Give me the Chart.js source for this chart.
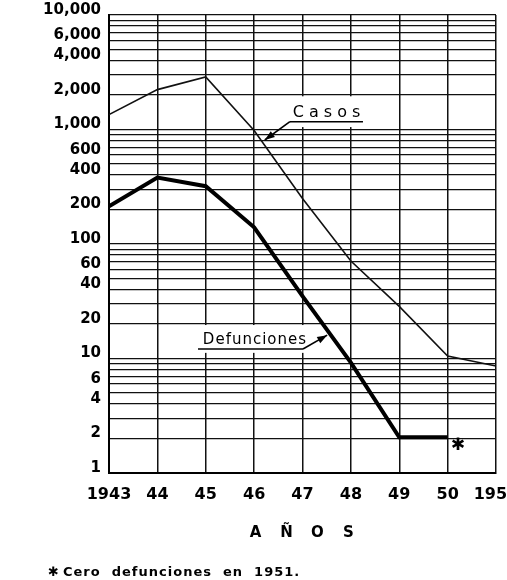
<!DOCTYPE html>
<html>
<head>
<meta charset="utf-8">
<script src="https://cdn.jsdelivr.net/npm/chart.js@4.4.1/dist/chart.umd.min.js"></script>
<style>
  html, body { margin: 0; padding: 0; background: #fff; }
  #wrap { width: 507px; height: 580px; }
</style>
</head>
<body>
<div id="wrap"><canvas id="c" width="507" height="580"></canvas></div>
<script>
// ── Data ──
const years = [1943, 1944, 1945, 1946, 1947, 1948, 1949, 1950, 1951];
const xTickLabels = ['1943', '44', '45', '46', '47', '48', '49', '50', '1951'];
const casos = [1350, 2230, 2880, 980, 250, 71, 28.5, 10.5, 8.6];
const defunciones = [213, 380, 320, 140, 35, 9.2, 2.05, 2.05, null];
const yTickLabels = [1, 2, 4, 6, 10, 20, 40, 60, 100, 200, 400, 600, 1000, 2000, 4000, 6000, 10000];
const yGridValues = [
  1, 2, 3, 4, 5, 6, 7, 8, 9,
  10, 20, 30, 40, 50, 60, 70, 80, 90,
  100, 200, 300, 400, 500, 600, 700, 800, 900,
  1000, 2000, 3000, 4000, 5000, 6000, 7000, 8000, 9000,
  10000
];

// ── Annotations (data coordinates) ──
const casosNote = { text: 'Casos', x: 1946.80, y: 1400, lineY: 1170, lineX0: 1946.74, lineX1: 1948.25, tipX: 1946.22, tipY: 810 };
const defNote = { text: 'Defunciones', x: 1944.94, y: 14.5, lineY: 12.1, lineX0: 1944.84, lineX1: 1947.01, tipX: 1947.51, tipY: 16.0 };
// gaps left in the vertical rules behind the labels
const gaps = [
  { xs: [1947, 1948], yTop: 1950, yBot: 1050 },
  { xs: [1945, 1946, 1947], yTop: 19.6, yBot: 11.2 }
];
const starPoint = { x: 1950.21, y: 1.72 };

function arrow(ctx, x0, y0, x1, y1) {
  ctx.beginPath();
  ctx.moveTo(x0, y0);
  ctx.lineTo(x1, y1);
  ctx.stroke();
  const a = Math.atan2(y1 - y0, x1 - x0);
  const len = 10, w = 3.5;
  ctx.beginPath();
  ctx.moveTo(x1, y1);
  ctx.lineTo(x1 - len * Math.cos(a) + w * Math.sin(a), y1 - len * Math.sin(a) - w * Math.cos(a));
  ctx.lineTo(x1 - len * Math.cos(a) - w * Math.sin(a), y1 - len * Math.sin(a) + w * Math.cos(a));
  ctx.closePath();
  ctx.fill();
}

const paperPlugin = {
  id: 'paper',
  beforeDatasetsDraw(chart) {
    const { ctx, scales: { x, y } } = chart;
    ctx.save();
    ctx.fillStyle = '#fff';
    gaps.forEach(g => {
      const top = y.getPixelForValue(g.yTop), bot = y.getPixelForValue(g.yBot);
      g.xs.forEach(v => {
        const px = x.getPixelForValue(v);
        ctx.fillRect(px - 2.5, top, 5, bot - top);
      });
    });
    ctx.restore();
  },
  afterDraw(chart) {
    const { ctx, chartArea, scales: { x, y } } = chart;
    ctx.save();
    ctx.fillStyle = '#000';
    ctx.strokeStyle = '#000';
    ctx.textBaseline = 'middle';

    // series labels
    [[casosNote, '5px', 16], [defNote, '1px', 15]].forEach(([n, sp, size]) => {
      ctx.font = size + 'px "DejaVu Sans"';
      ctx.letterSpacing = sp;
      ctx.textAlign = 'left';
      ctx.fillText(n.text, x.getPixelForValue(n.x), y.getPixelForValue(n.y));
      ctx.letterSpacing = '0px';
      ctx.lineWidth = 1.6;
      const ly = y.getPixelForValue(n.lineY);
      ctx.beginPath();
      ctx.moveTo(x.getPixelForValue(n.lineX0), ly);
      ctx.lineTo(x.getPixelForValue(n.lineX1), ly);
      ctx.stroke();
      const sx = n === casosNote ? x.getPixelForValue(n.lineX0) : x.getPixelForValue(n.lineX1);
      arrow(ctx, sx, ly, x.getPixelForValue(n.tipX), y.getPixelForValue(n.tipY));
    });

    // asterisk for 1951
    ctx.font = 'bold 17px "DejaVu Sans"';
    ctx.textAlign = 'center';
    ctx.fillText('✱', x.getPixelForValue(starPoint.x), y.getPixelForValue(starPoint.y));

    // axis title
    ctx.font = 'bold 15px "DejaVu Sans"';
    const title = ['A', 'Ñ', 'O', 'S'];
    const cx = (chartArea.left + chartArea.right) / 2;
    title.forEach((ch, i) => ctx.fillText(ch, cx - 47 + i * 31, 533));

    // footnote
    ctx.textAlign = 'left';
    ctx.font = 'bold 13px "DejaVu Sans"';
    ctx.fillText('✱', 48, 573);
    ctx.letterSpacing = '1px';
    ctx.fillText('Cero  defunciones  en  1951.', 63, 573);
    ctx.restore();
  }
};

const ctx = document.getElementById('c').getContext('2d');
new Chart(ctx, {
  type: 'line',
  data: {
    datasets: [
      {
        label: 'Casos',
        data: years.map((yr, i) => ({ x: yr, y: casos[i] })),
        borderColor: '#111',
        borderWidth: 1.6,
        pointRadius: 0,
        tension: 0
      },
      {
        label: 'Defunciones',
        data: years.map((yr, i) => ({ x: yr, y: defunciones[i] })),
        borderColor: '#000',
        borderWidth: 4,
        pointRadius: 0,
        tension: 0,
        spanGaps: false
      }
    ]
  },
  options: {
    responsive: false,
    animation: false,
    layout: { padding: { top: 15, right: 11, left: 0, bottom: 0 } },
    plugins: { legend: { display: false }, tooltip: { enabled: false } },
    scales: {
      x: {
        type: 'linear',
        min: 1943,
        max: 1951,
        afterBuildTicks: s => { s.ticks = years.map(v => ({ value: v })); },
        ticks: {
          autoSkip: false,
          maxRotation: 0,
          padding: 12,
          color: '#000',
          font: { family: 'DejaVu Sans', weight: 'bold', size: 16 },
          callback: v => xTickLabels[years.indexOf(v)]
        },
        grid: { color: '#111', lineWidth: 1.5, drawTicks: false },
        border: { color: '#000', width: 2 },
        afterFit: s => { s.height = 107; s.paddingLeft = 0; s.paddingRight = 0; }
      },
      y: {
        type: 'logarithmic',
        min: 1,
        max: 10000,
        afterBuildTicks: s => { s.ticks = yGridValues.map(v => ({ value: v })); },
        ticks: {
          autoSkip: false,
          padding: 8,
          labelOffset: -5,
          color: '#000',
          font: { family: 'DejaVu Sans', weight: 'bold', size: 15 },
          callback: v => yTickLabels.includes(v) ? v.toLocaleString('en-US') : ''
        },
        grid: { color: '#111', lineWidth: 1.3, drawTicks: false },
        border: { color: '#000', width: 2 },
        afterFit: s => { s.width = 109; s.paddingTop = 0; s.paddingBottom = 0; }
      }
    }
  },
  plugins: [paperPlugin]
});
</script>
</body>
</html>
